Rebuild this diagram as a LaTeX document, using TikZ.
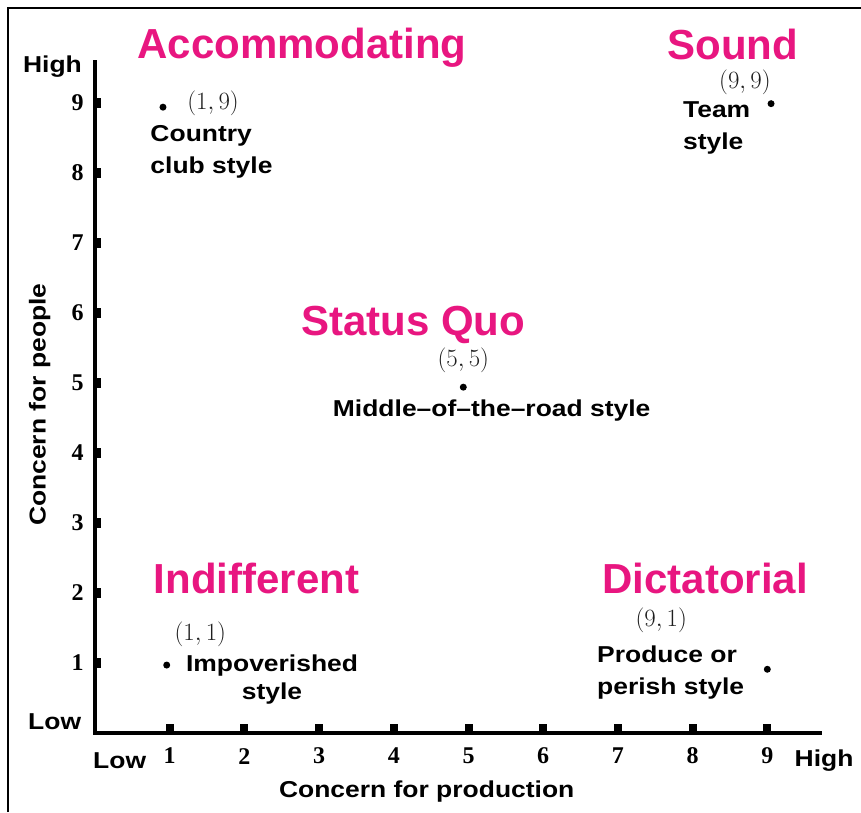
\documentclass[tikz,border=0pt]{standalone}
\usepackage{fontspec}
\usepackage{xcolor}
\usetikzlibrary{positioning}
\newfontfamily\lblfont[FakeStretch=1.15]{Liberation Sans}
\newfontfamily\ttlfont{Liberation Sans}
\newfontfamily\numfont{Liberation Serif}
\definecolor{gridpink}{RGB}{232,22,128}
\definecolor{coordgray}{RGB}{30,30,30}
\tikzstyle{title} = [text=gridpink, font=\ttlfont\bfseries\fontsize{42}{46}\selectfont, inner sep=0pt]
\tikzstyle{lbl} = [font=\lblfont\bfseries\fontsize{23}{32}\selectfont, inner sep=0pt]
\tikzstyle{crd} = [text=coordgray, font=\fontsize{25}{28}\selectfont, inner sep=0pt]
\tikzstyle{num} = [font=\numfont\bfseries\fontsize{24}{26}\selectfont, inner sep=0pt]

\begin{document}
\begin{tikzpicture}[x=74.7pt,y=70pt]
\tikzset{dot/.style={fill=black,circle,inner sep=0pt,minimum size=7pt}}
\useasboundingbox (-1.272,-1.129) rectangle (10.254,10.471);
% frame
\draw[line width=1.5pt] (-1.165,-1.129) -- (-1.165,10.357) -- (10.254,10.357);

% axes
\coordinate (o) at (0,0);
\coordinate (ytop) at (0,9.61);
\coordinate (xend) at (9.73,0);
\draw[line width=4.5pt] (ytop) -- (o) -- (xend);
\foreach \x in {1,2,...,9} {
\fill (\x,0) ++(-4pt,0) rectangle ++(8pt,9pt);
\node[num] (xn\x) at (\x,-0.33){\x}; }
\foreach\l[count=\y] in {1,2,...,9} {
\fill (0,\y) ++(0,-5pt) rectangle ++(6pt,10pt);
\node[num,anchor=east] (yn\y) at (-0.15,\y){\l}; }

\node[lbl] (yhigh) at (-0.57,9.52){High};
\node[lbl] (ylow) at (-0.54,0.16){Low};
\node[lbl] (xlow) at (0.33,-0.39){Low};
\node[lbl] (xhigh) at (9.76,-0.39){High};
\node[lbl] (xlab) at (4.44,-0.83){Concern for production};
\node[lbl,rotate=90] (ylab) at (-0.74,4.69){Concern for people};

% styles
\node[dot] (acc) at (0.91,8.94){};
\node[crd] (acccrd) at (1.58,8.99){$(1,9)$};
\node[lbl,align=left,anchor=west] (acclbl) at (0.74,8.3){Country\\club style};
\node[title] (accttl) at (2.77,9.79){Accommodating};

\node[dot] (snd) at (9.05,8.99){};
\node[crd] (sndcrd) at (8.70,9.30){$(9,9)$};
\node[lbl,align=left,anchor=west] (sndlbl) at (7.87,8.64){Team\\style};
\node[title] (sndttl) at (8.54,9.84){Sound};

\node[dot] (sq) at (4.93,4.94){};
\node[crd] (sqcrd) at (4.93,5.33){$(5,5)$};
\node[lbl] (sqlbl) at (5.31,4.6){Middle–of–the–road style};
\node[title] (sqttl) at (4.26,5.83){Status Quo};

\node[dot] (ind) at (0.96,0.97){};
\node[crd] (indcrd) at (1.41,1.41){$(1,1)$};
\node[lbl,align=center,font=\lblfont\bfseries\fontsize{23}{28}\selectfont] (indlbl) at (2.37,0.77){Impoverished\\style};
\node[title] (indttl) at (2.16,2.21){Indifferent};

\node[dot] (dic) at (9.0,0.91){};
\node[crd] (diccrd) at (7.58,1.61){$(9,1)$};
\node[lbl,align=left,anchor=west] (diclbl) at (6.72,0.87){Produce or\\perish style};
\node[title] (dicttl) at (8.17,2.21){Dictatorial};
\end{tikzpicture}
\end{document}
